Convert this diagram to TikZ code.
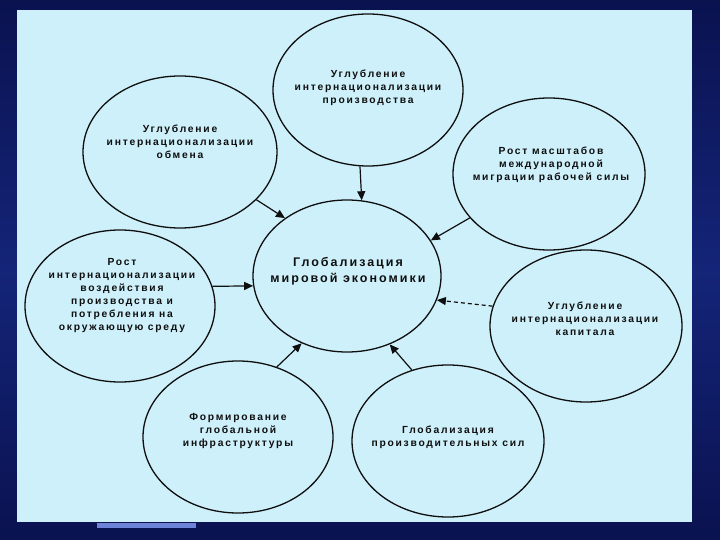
\documentclass[tikz,border=0pt]{standalone}
\usepackage{fontspec}
\setmainfont{Liberation Sans}
\newfontfamily\lblfont[LetterSpace=17]{Liberation Sans}
\newfontfamily\cenfont[LetterSpace=16]{Liberation Sans}
\usetikzlibrary{shapes.geometric,arrows.meta}
\definecolor{bgnavy}{RGB}{10,18,80}
\definecolor{bgnavyb}{RGB}{20,36,120}
\definecolor{panelc}{RGB}{206,240,250}
\definecolor{ink}{RGB}{15,15,15}
\definecolor{barc}{RGB}{110,130,215}
\begin{document}
\begin{tikzpicture}[x=1pt,y=-1pt,
  bub/.style={ellipse, draw=ink, line width=1.3pt, minimum width=190pt, minimum height=152pt, inner sep=0pt},
  lbl/.style={align=center, text=ink, inner sep=0pt, font=\lblfont\bfseries\fontsize{10.3}{13}\selectfont},
  cenlbl/.style={align=center, text=ink, inner sep=0pt, font=\cenfont\bfseries\fontsize{12.5}{16}\selectfont},
  arr/.style={draw=ink, line width=1.2pt, -{Triangle[length=9pt,width=8pt]}}]
% background
\useasboundingbox (0,0) rectangle (720,540);
\shade[top color=bgnavy, bottom color=bgnavy, middle color=bgnavyb] (0,0) rectangle (720,540);
\fill[barc] (97,523) rectangle (196,528);
\fill[panelc] (17,10) rectangle (692,522);
% bubbles
\node[bub, minimum width=188pt] (cen) at (347,276) {};
\node[bub] (ctop) at (368,90) {};
\node[bub, minimum width=194pt] (ctl) at (180,152) {};
\node[bub, minimum width=192pt] (ctr) at (549,174) {};
\node[bub] (cleft) at (120,306) {};
\node[bub, minimum width=192pt] (cright) at (586,326) {};
\node[bub] (cbl) at (238,437) {};
\node[bub, minimum width=192pt] (cbr) at (448,441) {};
% labels
\node[cenlbl] (tcen) at (348,271) {Глобализация\\мировой экономики};
\node[lbl] (ttop) at (368,88) {Углубление\\интернационализации\\производства};
\node[lbl] (ttl) at (180,142) {Углубление\\интернационализации\\обмена};
\node[lbl] (ttr) at (551,165) {Рост масштабов\\международной\\миграции рабочей силы};
\node[lbl] (tleft) at (122,296) {Рост\\интернационализации\\воздействия\\производства и\\потребления на\\окружающую среду};
\node[lbl] (tright) at (585,319) {Углубление\\интернационализации\\капитала};
\node[lbl] (tbl) at (238,431) {Формирование\\глобальной\\инфраструктуры};
\node[lbl] (tbr) at (448,437) {Глобализация\\производительных сил};
% connectors
\draw[arr] (ctop.264.7) -- (cen.79.8);
\draw[arr] (ctl.328.4) -- (cen.137.9);
\draw[arr] (ctr.209.3) -- (cen.23.4);
\draw[arr] (cleft.12) -- (cen.186);
\draw[arr, dash pattern=on 4pt off 3pt] (cright.168.8) -- (cen.345.8);
\draw[arr] (cbl.61.2) -- (cen.236.5);
\draw[arr] (cbr.117.5) -- (cen.302.6);
\end{tikzpicture}
\end{document}
